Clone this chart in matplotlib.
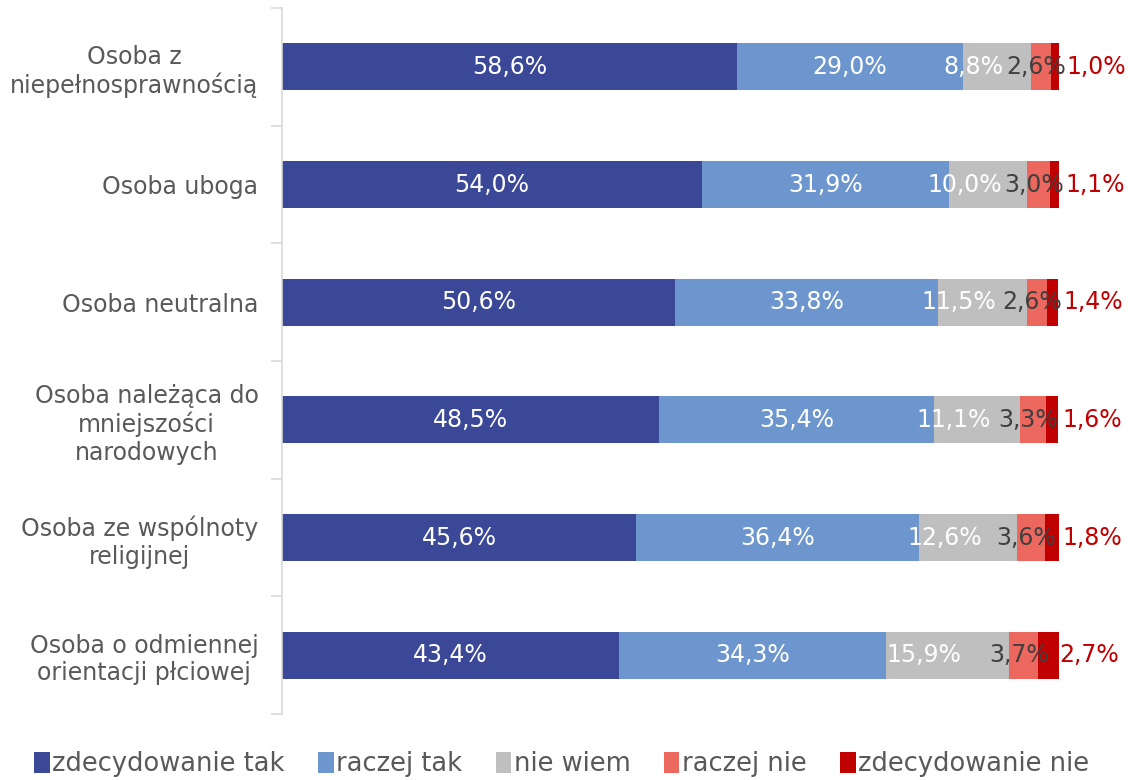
import numpy as np
import matplotlib.pyplot as plt
from matplotlib.patches import Patch

plt.rcParams['font.family'] = ['DejaVu Sans']

categories = ['Osoba z\nniepełnosprawnością', 'Osoba uboga', 'Osoba neutralna',
              'Osoba należąca do\nmniejszości\nnarodowych',
              'Osoba ze wspólnoty\nreligijnej',
              'Osoba o odmiennej\norientacji płciowej']
series_names = ['zdecydowanie tak', 'raczej tak', 'nie wiem', 'raczej nie', 'zdecydowanie nie']
zdecydowanie_tak = [58.6, 54.0, 50.6, 48.5, 45.6, 43.4]
raczej_tak = [29.0, 31.9, 33.8, 35.4, 36.4, 34.3]
nie_wiem = [8.8, 10.0, 11.5, 11.1, 12.6, 15.9]
raczej_nie = [2.6, 3.0, 2.6, 3.3, 3.6, 3.7]
zdecydowanie_nie = [1.0, 1.1, 1.4, 1.6, 1.8, 2.7]

series = [zdecydowanie_tak, raczej_tak, nie_wiem, raczej_nie, zdecydowanie_nie]
colors = ['#3A4897', '#6C96CD', '#BFBFBF', '#EC675D', '#C00000']
text_colors = ['white', 'white', 'white', '#404040', '#C00000']
# label nudges (in % units) to mimic the original layout
nudge = [0, 0, -3.0, -0.6, 1.4]

fig = plt.figure(figsize=(11.28, 7.8), dpi=100)
ax = fig.add_axes([0.25, 0.0846, 0.6888, 0.905])

y = np.arange(len(categories))
left = np.zeros(len(categories))
for k, vals in enumerate(series):
    vals = np.array(vals)
    ax.barh(y, vals, left=left, height=0.4, color=colors[k], label=series_names[k])
    for i, v in enumerate(vals):
        cx = left[i] + v / 2 + nudge[k]
        ha = 'left' if k == 4 else 'center'
        ax.text(cx, y[i], f'{v:.1f}%'.replace('.', ','), ha=ha, va='center',
                color=text_colors[k], fontsize=17)
    left += vals

ax.set_xlim(0, 100)
ax.set_ylim(len(categories) - 0.5, -0.5)
ax.set_yticks(y)
ax.set_yticklabels(categories, fontsize=17, color='#595959', multialignment='center')
ax.tick_params(axis='y', which='major', length=0, pad=17)
ax.set_yticks(np.arange(len(categories) + 1) - 0.5, minor=True)
ax.tick_params(axis='y', which='minor', length=8, color='#D9D9D9', width=1.2)
ax.xaxis.set_visible(False)
for s in ['top', 'right', 'bottom']:
    ax.spines[s].set_visible(False)
ax.spines['left'].set_color('#D9D9D9')
ax.spines['left'].set_linewidth(1.2)

handles = [Patch(facecolor=c) for c in colors]
fig.legend(handles, series_names, loc='center', bbox_to_anchor=(0.498, 0.02), ncol=5,
           frameon=False, fontsize=18.5, handlelength=0.6, handleheight=0.9,
           handletextpad=0.1, columnspacing=1.3, labelcolor='#595959')

fig.savefig('out.png', dpi=100)
